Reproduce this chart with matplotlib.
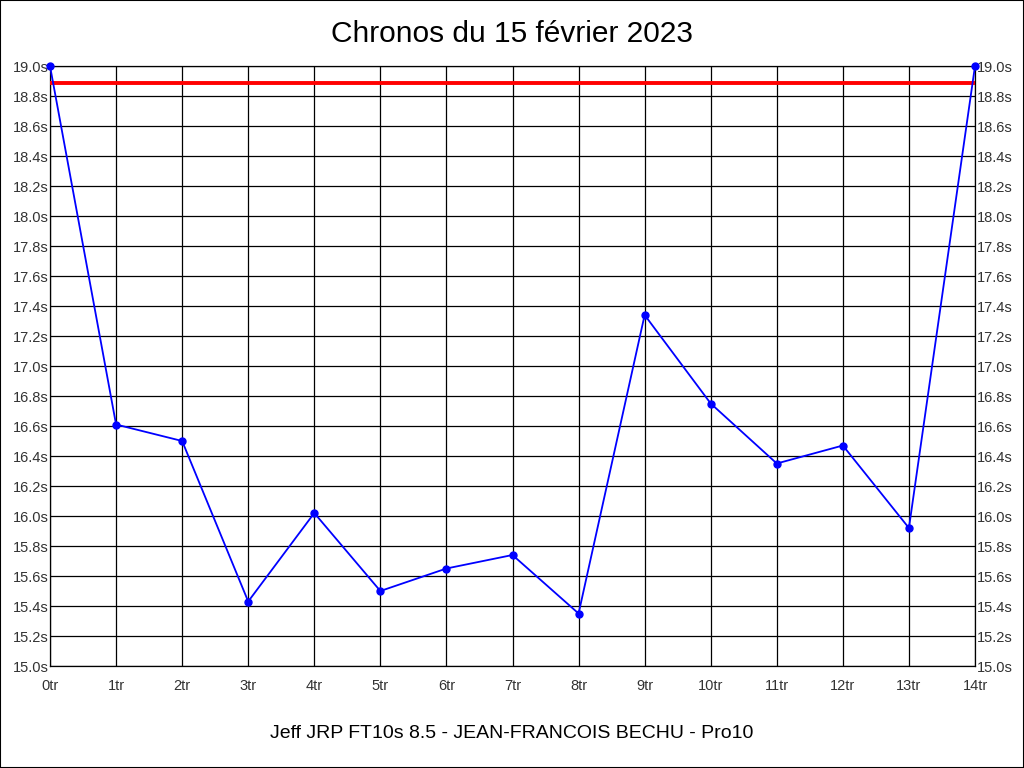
import matplotlib
matplotlib.use("Agg")
import matplotlib.pyplot as plt
from matplotlib.patches import Rectangle

plt.rcParams['font.family'] = ['Liberation Sans', 'DejaVu Sans']

laps = list(range(15))
lap_labels = [f"{i}tr" for i in laps]
times = [19.0, 16.61, 16.50, 15.43, 16.02, 15.50, 15.65, 15.74, 15.35,
         17.34, 16.75, 16.35, 16.47, 15.92, 19.0]
ref_time = 18.89
yticks = [round(15.0 + 0.2 * i, 1) for i in range(21)]
ytick_labels = [f"{v:.1f}s" for v in yticks]
title = "Chronos du 15 février 2023"
subtitle = "Jeff JRP FT10s 8.5 - JEAN-FRANCOIS BECHU - Pro10"

fig = plt.figure(figsize=(10.24, 7.68), dpi=100)
fig.patches.append(Rectangle((0, 0), 1, 1, transform=fig.transFigure,
                             fill=False, edgecolor='black', linewidth=1.5))
ax = fig.add_axes([50/1024, (768-666)/768, 925/1024, 600/768])

ax.set_xlim(0, 14)
ax.set_ylim(15.0, 19.0)
ax.set_xticks(laps)
ax.set_xticklabels(lap_labels)
ax.set_yticks(yticks)
ax.set_yticklabels(ytick_labels)
ax.grid(True, color='black', linewidth=0.9)
ax.set_axisbelow(True)
ax.tick_params(axis='both', length=0, labelsize=10.5, colors='#333333')
ax.tick_params(axis='y', pad=1, labelright=True, right=False)
ax.tick_params(axis='x', pad=9)
for s in ax.spines.values():
    s.set_color('black')
    s.set_linewidth(0.9)

ax.axhline(ref_time, color='#ff0000', linewidth=2.8, zorder=3)
ax.plot(laps, times, color='#0000ff', linewidth=1.3, marker='o',
        markersize=5, zorder=4, clip_on=False)

fig.text(0.5, 1 - 34/768, title, ha='center', va='center', fontsize=21.5)
fig.text(0.5, 1 - 733/768, subtitle, ha='center', va='center', fontsize=14)

fig.savefig("out.png", dpi=100)
